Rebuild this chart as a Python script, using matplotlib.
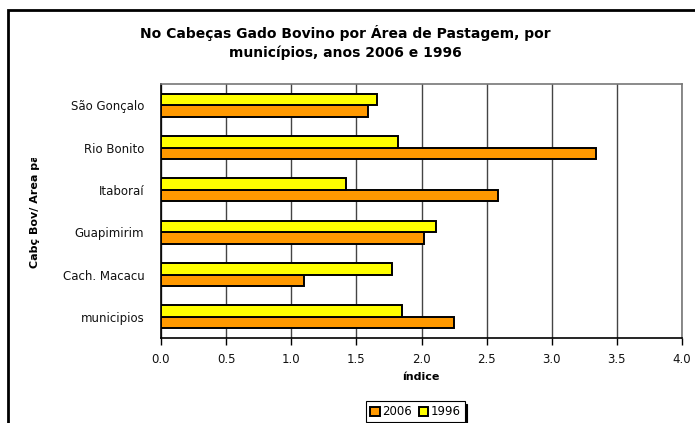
import matplotlib
matplotlib.use("Agg")
import matplotlib.pyplot as plt
from matplotlib.patches import Rectangle
from matplotlib.transforms import Bbox
import numpy as np

plt.rcParams['font.family'] = ['DejaVu Sans']

categories = ["São Gonçalo", "Rio Bonito", "Itaboraí", "Guapimirim", "Cach. Macacu", "municipios"]
values_2006 = [1.59, 3.34, 2.59, 2.02, 1.10, 2.25]
values_1996 = [1.66, 1.82, 1.42, 2.11, 1.77, 1.85]
series_labels = ["2006", "1996"]
xticks = [0.0, 0.5, 1.0, 1.5, 2.0, 2.5, 3.0, 3.5, 4.0]

W, H = 695, 423
fig = plt.figure(figsize=(W / 100, H / 100), dpi=100)
ax = fig.add_axes([161 / W, 1 - 338 / H, (682 - 161) / W, (338 - 84) / H])

n = len(categories)
pos = np.arange(n)[::-1].astype(float)  # first category at top
bh = 0.27
orange = "#FF9900"
yellow = "#FFFF00"
b06 = ax.barh(pos - bh / 2, values_2006, height=bh, color=orange, edgecolor="black", linewidth=1.4, zorder=3)
b96 = ax.barh(pos + bh / 2, values_1996, height=bh, color=yellow, edgecolor="black", linewidth=1.4, zorder=3)

ax.set_xlim(0, 4.0)
ax.set_ylim(-0.5, n - 0.5)
ax.set_xticks(xticks)
ax.set_xticklabels([f"{t:.1f}" for t in xticks], fontsize=8.5)
ax.set_yticks(pos)
ax.set_yticklabels(categories, fontsize=8.5)
ax.tick_params(axis="y", length=0, pad=12)
ax.tick_params(axis="x", length=5, width=1, color="black", direction="out", pad=6)
for lbl in ax.get_yticklabels() + ax.get_xticklabels():
    lbl.set_color("#111111")

ax.grid(axis="x", color="#444444", linewidth=1.0, zorder=0)
ax.set_axisbelow(True)
for side in ["top", "right"]:
    ax.spines[side].set_color("#777777")
    ax.spines[side].set_linewidth(1.2)
for side in ["left", "bottom"]:
    ax.spines[side].set_color("black")
    ax.spines[side].set_linewidth(1.2)

fig.text(421 / W, 1 - 377 / H, "índice", ha="center", va="center", fontsize=8, fontweight="bold")

ylab = fig.text(35 / W, 1 - 268 / H, "Cabç Bov/ Area pastagem", rotation=90, ha="center", va="bottom",
                fontsize=8, fontweight="bold")
ylab.set_clip_box(Bbox.from_extents(0, 0, W, H - 158))
ylab.set_clip_on(True)

fig.text(345 / W, 1 - 33 / H, "No Cabeças Gado Bovino por Área de Pastagem, por",
         ha="center", va="center", fontsize=10, fontweight="bold")
fig.text(345 / W, 1 - 53 / H, "municípios, anos 2006 e 1996",
         ha="center", va="center", fontsize=10, fontweight="bold")

# outer chart frame
fig.patches.append(Rectangle((8 / W, -0.1), 1.2, 1 - 10 / H + 0.1, transform=fig.transFigure,
                             fill=False, edgecolor="black", linewidth=2))

leg = fig.legend([b06, b96], series_labels, loc="upper left", bbox_to_anchor=(366 / W, 1 - 401 / H),
                 ncol=2, frameon=True, fancybox=False, shadow={"color": "black", "alpha": 1.0},
                 fontsize=8.5, handlelength=0.8, handleheight=0.8, handletextpad=0.2,
                 columnspacing=0.6, borderpad=0.35, borderaxespad=0)
leg.get_frame().set_edgecolor("black")
leg.get_frame().set_linewidth(0.8)

fig.savefig("out.png", dpi=100)
